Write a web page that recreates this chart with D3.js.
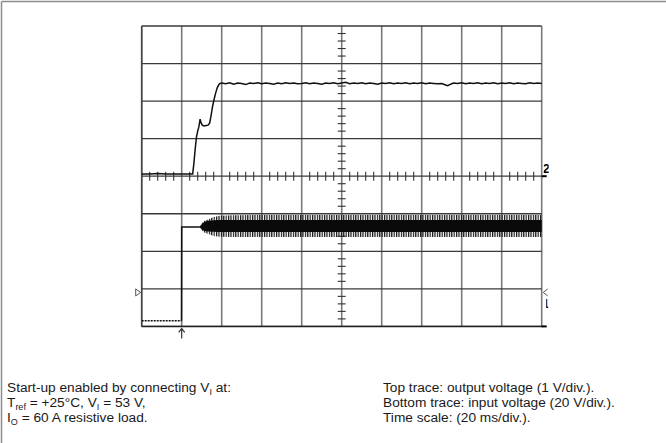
<!DOCTYPE html>
<html><head><meta charset="utf-8">
<script src="https://cdn.jsdelivr.net/npm/d3@7"></script>
<style>
html,body{margin:0;padding:0;background:#fff;}
svg{display:block;font-family:"Liberation Sans",Arial,Helvetica,sans-serif;}
</style></head>
<body>
<svg id="c" width="666" height="443"></svg>
<script>
// ---- data ----
// Time axis: 20 ms/div, 10 divisions
const timeTicks = [0,20,40,60,80,100,120,140,160,180,200];
// Top trace: output voltage (V), 1 V/div, reference at centre line
const voutT = [0,4,8,12,16,20,24,25.5,26.1,26.8,27.4,28.0,28.6,29.2,29.7,30.3,31.2,32.2,33.2,34.0,34.7,35.4,36.2,37.0,37.8,38.6,39.2,40,42,44,46,48,50,52,54,56,58,60,62,64,66,68,70,72,74,76,78,80,82,84,86,88,90,92,94,96,98,100,102,104,106,108,110,112,114,116,118,120,122,124,126,128,130,132,134,136,138,140,142,144,146,148,150,151,152,153,154,155,156,158,160,162,164,166,168,170,172,174,176,178,180,182,184,186,188,190,192,194,196,198,200];
const voutV = [0.06,0.06,0.07,0.06,0.06,0.06,0.06,0.06,0.35,0.75,1.05,1.20,1.32,1.52,1.42,1.36,1.34,1.35,1.36,1.42,1.62,1.85,2.05,2.22,2.36,2.44,2.47,2.48,2.46,2.49,2.45,2.48,2.47,2.44,2.48,2.47,2.49,2.46,2.48,2.47,2.45,2.48,2.46,2.49,2.47,2.48,2.46,2.47,2.49,2.46,2.48,2.47,2.45,2.48,2.47,2.49,2.46,2.48,2.50,2.46,2.48,2.47,2.49,2.46,2.48,2.47,2.45,2.48,2.47,2.49,2.46,2.48,2.47,2.49,2.46,2.48,2.47,2.49,2.46,2.48,2.47,2.46,2.47,2.45,2.43,2.41,2.44,2.46,2.48,2.47,2.49,2.46,2.48,2.47,2.49,2.46,2.48,2.47,2.49,2.46,2.48,2.47,2.49,2.46,2.48,2.47,2.46,2.49,2.47,2.48,2.47];
// Bottom trace: input voltage (V), 20 V/div, ground at bottom edge
const vinT = [0,19.9,20.0,20.5,29];
const vinV = [3.0,3.0,52.9,52.9,53.0];
// Ripple envelope of the input voltage after start-up (V)
const envT      = [29,30,31,33,36,39,45,60,80,100,120,140,160,180,200];
const envOuterHi= [53.3,55.0,56.0,57.0,58.3,59.0,59.2,59.3,59.3,59.3,59.3,59.3,59.3,59.3,59.3];
const envOuterLo= [52.7,51.2,50.2,49.3,48.2,47.7,47.6,47.6,47.6,47.6,47.6,47.6,47.6,47.6,47.6];
const envCoreHi = [53.1,54.3,55.5,56.3,56.6,56.7,56.7,56.7,56.7,56.7,56.7,56.7,56.7,56.7,56.7];
const envCoreLo = [52.9,51.8,51.0,50.6,50.4,50.3,50.3,50.3,50.3,50.3,50.3,50.3,50.3,50.3,50.3];
const voutDivs = [-4,-3,-2,-1,0,1,2,3,4];
const triggerTime = 20;
const noteLeft = [
  [["Start-up enabled by connecting V",""],["I","sub"],[" at:",""]],
  [["T",""],["ref","sub"],[" = +25°C, V",""],["I","sub"],[" = 53 V,",""]],
  [["I",""],["O","sub"],[" = 60 A resistive load.",""]]
];
const noteRight = [
  "Top trace: output voltage (1 V/div.).",
  "Bottom trace: input voltage (20 V/div.).",
  "Time scale: (20 ms/div.)."
];

// ---- scales ----
const L=141.7, R=541.7, T=26, B=326.4;
const x = d3.scaleLinear().domain([0,200]).range([L,R]);
const yOut = d3.scaleLinear().domain([-4,4]).range([B,T]);
const yIn = d3.scaleLinear().domain([0,160]).range([B,T]);

const svg = d3.select("#c");
// outer frame (top and left)
svg.append("line").attr("x1",1.5).attr("x2",666).attr("y1",1.5).attr("y2",1.5).attr("stroke","#8c8c8c").attr("stroke-width",1.5);
svg.append("line").attr("x1",1.5).attr("x2",1.5).attr("y1",1.5).attr("y2",443).attr("stroke","#8c8c8c").attr("stroke-width",1.5);

const defs = svg.append("defs");
const pat = defs.append("pattern").attr("id","hatch").attr("patternUnits","userSpaceOnUse").attr("width",2.4).attr("height",10);
pat.append("rect").attr("x",0).attr("y",0).attr("width",1.2).attr("height",10).attr("fill","#111");
defs.append("clipPath").attr("id","scr").append("rect").attr("x",L).attr("y",T-2).attr("width",R-L+8).attr("height",B-T+4);

// grid
const g = svg.append("g");
g.selectAll("line.v").data(timeTicks).join("line")
  .attr("x1",d=>x(d)).attr("x2",d=>x(d)).attr("y1",T).attr("y2",B)
  .attr("stroke","#7a7a7a").attr("stroke-width",1.6);
g.selectAll("line.h").data(voutDivs).join("line")
  .attr("x1",L).attr("x2",R).attr("y1",d=>yOut(d)).attr("y2",d=>yOut(d))
  .attr("stroke","#3a3a3a").attr("stroke-width",1.3);
g.append("line").attr("x1",L).attr("x2",L).attr("y1",T).attr("y2",B).attr("stroke","#444").attr("stroke-width",1.5);
g.append("line").attr("x1",L).attr("x2",R+1).attr("y1",B).attr("y2",B).attr("stroke","#222").attr("stroke-width",1.5);

// centre axis minor ticks
const minorX = d3.range(0,200.01,4).filter(d=>d%20!==0);
g.selectAll("line.mx").data(minorX).join("line")
  .attr("x1",d=>x(d)).attr("x2",d=>x(d)).attr("y1",yOut(0)-4.5).attr("y2",yOut(0)+4.5)
  .attr("stroke","#333").attr("stroke-width",1.1);
const minorY = d3.range(-4,4.01,0.2).filter(d=>Math.abs(d-Math.round(d))>1e-6);
g.selectAll("line.my").data(minorY).join("line")
  .attr("x1",x(100)-4).attr("x2",x(100)+4).attr("y1",d=>yOut(d)).attr("y2",d=>yOut(d))
  .attr("stroke","#333").attr("stroke-width",1.1);

// markers
svg.append("path").attr("d",`M${L-6},${yIn(18.1)-3.5} L${L-1},${yIn(18.1)} L${L-6},${yIn(18.1)+3.5} Z`)
  .attr("fill","none").attr("stroke","#555").attr("stroke-width",1);
svg.append("path").attr("d",`M${R+6},${yIn(18.1)-3.5} L${R+1.5},${yIn(18.1)} L${R+6},${yIn(18.1)+3.5}`)
  .attr("fill","none").attr("stroke","#555").attr("stroke-width",1);
const tx = x(triggerTime);
svg.append("path").attr("d",`M${tx},${B+2} L${tx},${B+12} M${tx-3},${B+6} L${tx},${B+2} L${tx+3},${B+6}`)
  .attr("fill","none").attr("stroke","#333").attr("stroke-width",1.2);
svg.append("line").attr("x1",R).attr("x2",R+5).attr("y1",yOut(0)).attr("y2",yOut(0)).attr("stroke","#000").attr("stroke-width",2);
svg.append("line").attr("x1",R).attr("x2",R+5).attr("y1",B).attr("y2",B).attr("stroke","#000").attr("stroke-width",2);
defs.append("clipPath").attr("id","lbl").append("rect").attr("x",R+2).attr("y",0).attr("width",5).attr("height",443);
defs.append("clipPath").attr("id","lbl1").append("rect").attr("x",R+4.5).attr("y",0).attr("width",2).attr("height",443);
svg.append("text").attr("x",R+1).attr("y",yOut(0)-3).attr("font-size",13).attr("font-weight","bold").attr("clip-path","url(#lbl)").text("2");
svg.append("text").attr("x",R+0.5).attr("y",yIn(7.5)-4).attr("font-size",13).attr("font-weight","bold").attr("clip-path","url(#lbl1)").text("1");

// traces
const tr = svg.append("g").attr("clip-path","url(#scr)");
const areaOuter = d3.area().x((d,i)=>x(envT[i])).y0((d,i)=>yIn(envOuterLo[i])).y1((d,i)=>yIn(envOuterHi[i]));
const areaCore = d3.area().x((d,i)=>x(envT[i])).y0((d,i)=>yIn(envCoreLo[i])).y1((d,i)=>yIn(envCoreHi[i]));
tr.append("path").datum(envT).attr("d",areaOuter).attr("fill","url(#hatch)");
tr.append("path").datum(envT).attr("d",areaCore).attr("fill","#0a0a0a");
const lineIn = d3.line().x(d=>x(d[0])).y(d=>yIn(d[1]));
const vinPts = vinT.map((t,i)=>[t,vinV[i]]);
tr.append("path").datum(vinPts.slice(0,2)).attr("d",lineIn).attr("fill","none").attr("stroke","#111").attr("stroke-width",1.5).attr("stroke-dasharray","2,1");
tr.append("path").datum(vinPts.slice(1)).attr("d",lineIn).attr("fill","none").attr("stroke","#111").attr("stroke-width",1.5);
const lineOut = d3.line().x((d,i)=>x(voutT[i])).y(d=>yOut(d));
tr.append("path").datum(voutV).attr("d",lineOut).attr("fill","none").attr("stroke","#111").attr("stroke-width",1.5);

// notes
const nt = svg.append("g").attr("font-size",13.7).attr("fill","#1a1a1a");
noteLeft.forEach((parts,i)=>{
  const t = nt.append("text").attr("x",7).attr("y",392+i*15);
  parts.forEach(([s,k])=>{
    const sp = t.append("tspan").text(s);
    if(k==="sub") sp.attr("font-size",9).attr("baseline-shift","-2.5");
  });
});
noteRight.forEach((s,i)=>{
  nt.append("text").attr("x",383).attr("y",392+i*15).text(s);
});
</script>
</body></html>
